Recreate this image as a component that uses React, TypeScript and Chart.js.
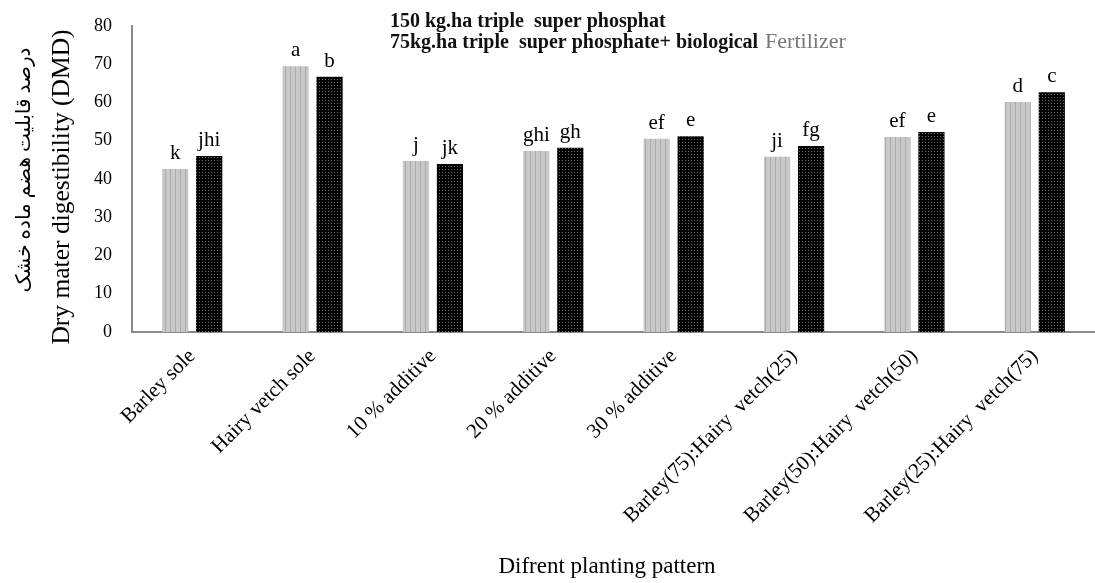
import React, { useEffect, useRef } from "react";
import { Chart, registerables } from "chart.js";

Chart.register(...registerables);

const categories = [
  "Barley sole",
  "Hairy vetch sole",
  "10 % additive",
  "20 % additive",
  "30 % additive",
  "Barley(75):Hairy  vetch(25)",
  "Barley(50):Hairy  vetch(50)",
  "Barley(25):Hairy  vetch(75)",
];
const series150 = [42.6, 69.5, 44.7, 47.3, 50.5, 45.8, 51.0, 60.1];
const series75 = [46.0, 66.7, 43.9, 48.2, 51.2, 48.6, 52.3, 62.7];
const letters150 = ["k", "a", "j", "ghi", "ef", "ji", "ef", "d"];
const letters75 = ["jhi", "b", "jk", "gh", "e", "fg", "e", "c"];
const legend1 = "150 kg.ha triple  super phosphat";
const legend2a = "75kg.ha triple  super phosphate+ biological ";
const legend2b = "Fertilizer";
const yTitle = "Dry mater digestibility (DMD)";
const yTitleFa = "درصد قابلیت هضم ماده خشک";
const xTitle = "Difrent planting pattern";

const SERIF = '"Liberation Serif", "Times New Roman", serif';

function stripePattern(): CanvasPattern | string {
  const c = document.createElement("canvas");
  c.width = 5;
  c.height = 5;
  const x = c.getContext("2d");
  if (!x) return "#c0c0c0";
  x.fillStyle = "#c8c8c8";
  x.fillRect(0, 0, 5, 5);
  x.fillStyle = "#ababab";
  x.fillRect(0, 0, 1, 5);
  return x.createPattern(c, "repeat") || "#c0c0c0";
}

function dotPattern(): CanvasPattern | string {
  const c = document.createElement("canvas");
  c.width = 3;
  c.height = 3;
  const x = c.getContext("2d");
  if (!x) return "#111";
  x.fillStyle = "#000";
  x.fillRect(0, 0, 3, 3);
  x.fillStyle = "#6a6a6a";
  x.fillRect(1, 1, 1, 1);
  return x.createPattern(c, "repeat") || "#111";
}

const textPlugin = {
  id: "textPlugin",
  afterDatasetsDraw(chart: any) {
    const ctx = chart.ctx;
    const lettersAll = [letters150, letters75];
    ctx.save();
    ctx.fillStyle = "#000";
    ctx.font = `21px ${SERIF}`;
    ctx.textAlign = "center";
    ctx.textBaseline = "alphabetic";
    lettersAll.forEach((letters, di) => {
      const meta = chart.getDatasetMeta(di);
      meta.data.forEach((el: any, i: number) => {
        ctx.fillText(letters[i], el.x, el.y - 10);
      });
    });
    ctx.restore();
  },
  afterDraw(chart: any) {
    const ctx = chart.ctx;
    ctx.save();
    // legend text
    ctx.textAlign = "left";
    ctx.textBaseline = "alphabetic";
    ctx.fillStyle = "#111";
    ctx.font = `bold 20px ${SERIF}`;
    ctx.fillText(legend1, 390, 27);
    ctx.fillText(legend2a, 390, 48);
    const w = ctx.measureText(legend2a).width;
    ctx.font = `22px ${SERIF}`;
    ctx.fillStyle = "#777";
    ctx.fillText(legend2b, 392 + w, 48);

    // y titles
    ctx.fillStyle = "#000";
    ctx.textAlign = "center";
    ctx.textBaseline = "middle";
    ctx.save();
    ctx.translate(62, 187);
    ctx.rotate(-Math.PI / 2);
    ctx.font = `25.5px ${SERIF}`;
    ctx.fillText(yTitle, 0, 0);
    ctx.restore();
    ctx.save();
    ctx.translate(25, 170);
    ctx.rotate(-Math.PI / 2);
    ctx.font = `20px ${SERIF}, "DejaVu Sans", sans-serif`;
    ctx.fillText(yTitleFa, 0, 0);
    ctx.restore();

    // x title
    ctx.font = `23px ${SERIF}`;
    ctx.fillText(xTitle, 607, 567);
    ctx.restore();
  },
};

export default function App() {
  const ref = useRef<HTMLCanvasElement | null>(null);
  useEffect(() => {
    if (!ref.current) return;
    const chart = new Chart(ref.current, {
      type: "bar",
      data: {
        labels: categories,
        datasets: [
          {
            label: legend1,
            data: series150,
            backgroundColor: stripePattern() as any,
            borderWidth: 0,
            categoryPercentage: 0.565,
            barPercentage: 0.77,
          },
          {
            label: legend2a + legend2b,
            data: series75,
            backgroundColor: dotPattern() as any,
            borderWidth: 0,
            categoryPercentage: 0.565,
            barPercentage: 0.77,
          },
        ],
      },
      options: {
        responsive: false,
        animation: false,
        layout: { padding: { top: 26, left: 0, right: 0, bottom: 0 } },
        plugins: {
          legend: { display: false },
          tooltip: { enabled: false },
          title: { display: false },
        },
        scales: {
          x: {
            grid: { display: false, drawTicks: false },
            border: { color: "#8a8a8a", width: 2 },
            ticks: {
              color: "#000",
              font: { family: SERIF, size: 21 },
              minRotation: 45,
              maxRotation: 45,
              autoSkip: false,
              padding: 12,
            },
            afterFit: (s: any) => {
              s.height = 251;
            },
          },
          y: {
            min: 0,
            max: 80,
            grid: { display: false, drawTicks: false },
            border: { color: "#8a8a8a", width: 2 },
            ticks: {
              stepSize: 10,
              color: "#000",
              font: { family: SERIF, size: 18 },
              padding: 20,
            },
            afterFit: (s: any) => {
              s.width = 132;
              s.paddingTop = 0;
              s.paddingBottom = 0;
            },
          },
        },
      },
      plugins: [textPlugin],
    });
    return () => chart.destroy();
  }, []);
  return (
    <div style={{ position: "fixed", left: 0, top: 0, width: 1095, height: 583, background: "#fff" }}>
      <canvas ref={ref} width={1095} height={583} />
    </div>
  );
}
